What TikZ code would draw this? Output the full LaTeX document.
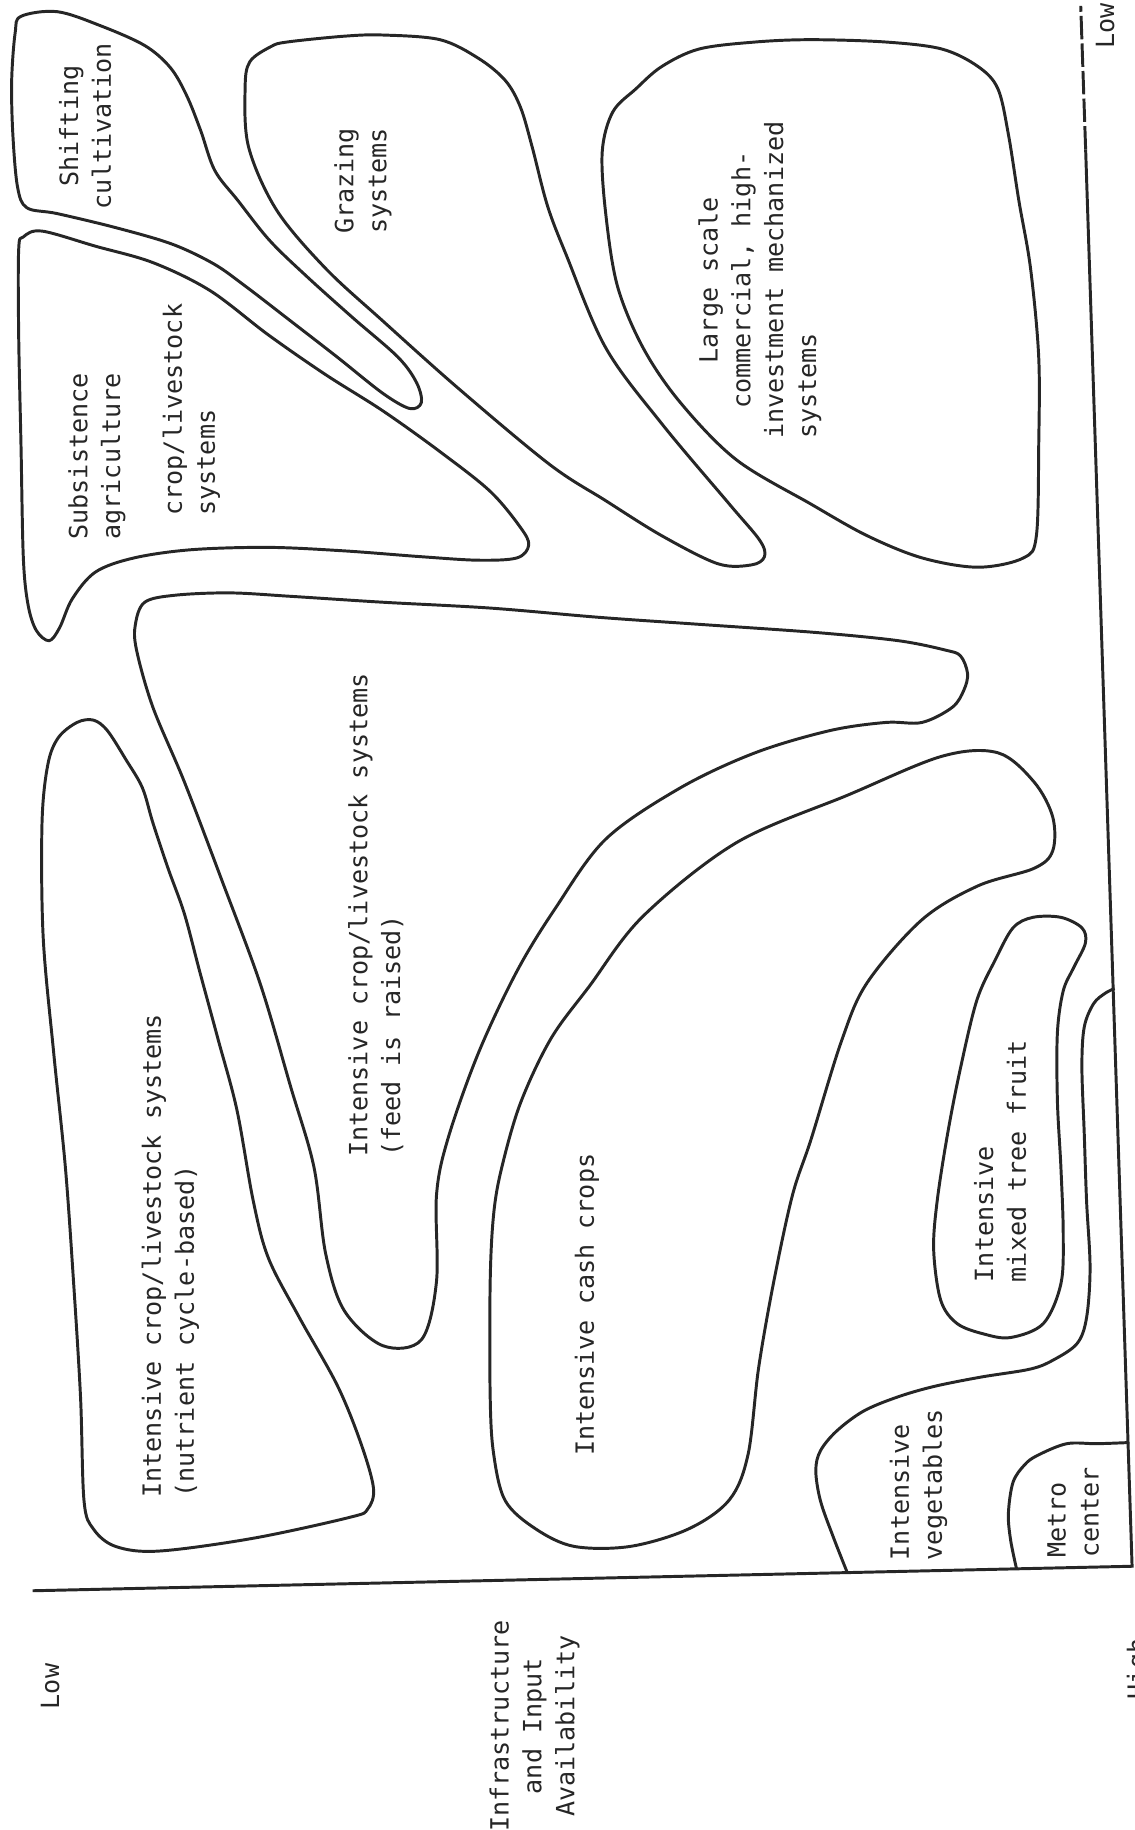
\documentclass[tikz,border=0pt]{standalone}
\usepackage{fontspec}
\setmonofont{DejaVu Sans Mono}

\begin{document}
\begin{tikzpicture}[
  x=0.25mm, y=-0.25mm,
  zone/.style={draw=black!85,line width=1.8pt,line join=round},
  axisline/.style={draw=black!85,line width=1.8pt},
  tag/.style={font=\ttfamily\fontsize{15.3}{20}\selectfont,text=black!85,rotate=90,inner sep=0pt},
  tagl/.style={tag,align=left}, tagc/.style={tag,align=center}
]
\useasboundingbox (0,0) rectangle (972,1568);
\coordinate (origin) at (28,1363);
\coordinate (xend) at (970,1342);
\coordinate (ytop) at (926,5);
\coordinate (ydash) at (930.2,128);
\draw[axisline] (origin) -- (xend) -- (ydash);
\draw[axisline,dash pattern=on 5mm off 0.9mm] (ydash) -- (ytop);

\draw[zone] plot[smooth cycle,tension=0.55] coordinates {(18,14) (49,10) (86,22) (124,39) (146,58) (160,82) (172,112) (184,146) (204,172) (231,206) (263,237) (302,272) (341,306) (357,328) (361,345) (351,350) (328,337) (289,306) (249,275) (210,245) (183,226) (147,209) (99,195) (49,183) (23,178) (15,160) (11,115) (10,69) (13,28)};
\draw[zone] plot[smooth cycle,tension=0.55] coordinates {(214,53) (232,40) (246,36) (295,31) (328,30) (377,34) (410,50) (433,69) (446,92) (456,126) (469,176) (485,218) (519,298) (567,363) (625,432) (651,463) (655,477) (644,484) (615,483) (567,459) (519,429) (471,398) (393,333) (328,275) (279,230) (237,180) (213,126) (210,76)};
\draw[zone] plot[smooth cycle,tension=0.55] coordinates {(20,203) (36,198) (82,211) (131,225) (180,249) (230,287) (279,321) (328,352) (377,387) (420,421) (446,452) (453,467) (443,478) (410,480) (361,477) (295,472) (230,469) (164,471) (115,478) (82,490) (62,513) (51,538) (42,549) (31,540) (24,518) (20,478) (18,382) (16,287) (16,214)};
\draw[zone] plot[smooth cycle,tension=0.55] coordinates {(567,57) (599,42) (647,36) (695,34) (759,36) (807,42) (838,57) (855,76) (864,115) (873,172) (883,230) (890,306) (890,382) (888,459) (877,478) (838,486) (790,478) (743,459) (695,432) (631,394) (583,345) (551,298) (529,245) (519,183) (516,130) (525,96) (545,76)};
\draw[zone] plot[smooth cycle,tension=0.55] coordinates {(124,516) (150,510) (197,508) (250,511) (328,516) (420,521) (514,529) (600,535) (700,542) (770,549) (810,557) (823,562) (829,577) (826,591) (816,606) (790,619) (759,619) (711,626) (647,645) (583,675) (519,719) (476,778) (443,832) (410,902) (384,975) (374,1024) (374,1098) (361,1148) (328,1153) (295,1123) (279,1074) (269,1000) (249,931) (223,843) (190,754) (158,670) (131,606) (117,557) (116,535)};
\draw[zone] plot[smooth cycle,tension=0.55] coordinates {(66,619) (80,617) (92,626) (108,651) (122,675) (131,705) (144,744) (158,783) (171,832) (187,891) (203,951) (217,1029) (230,1078) (256,1128) (289,1187) (309,1236) (320,1275) (315,1293) (300,1300) (217,1318) (136,1329) (99,1325) (80,1310) (72,1286) (69,1197) (63,1098) (56,1000) (46,902) (37,803) (36,705) (41,655) (50,632)};
\draw[zone] plot[smooth cycle,tension=0.55] coordinates {(472,890) (505,845) (551,785) (631,722) (727,681) (807,648) (855,645) (886,670) (902,700) (902,729) (886,744) (838,759) (790,788) (743,842) (721,892) (695,976) (679,1024) (663,1098) (650,1172) (641,1246) (625,1285) (590,1310) (540,1325) (492,1325) (459,1310) (433,1286) (423,1246) (420,1197) (420,1098) (423,1040) (430,1000) (446,945)};
\draw[zone] plot[smooth cycle,tension=0.55] coordinates {(868,795) (885,786) (909,786) (927,795) (930,808) (920,829) (911,849) (906,885) (906,943) (909,1000) (911,1057) (909,1100) (894,1134) (866,1146) (843,1143) (820,1134) (806,1114) (800,1071) (803,1029) (812,971) (823,915) (837,857) (853,822)};
\draw[zone] plot[smooth,tension=0.55] coordinates {(726,1347.5) (714,1317) (703,1286) (699,1260) (703,1243) (717,1226) (740,1209) (769,1197) (800,1188) (840,1180) (883,1173) (903,1165) (923,1151) (931,1129) (934,1086) (931,1029) (929,971) (927,914) (929,880) (937,860) (947,851) (955,847)};
\draw[zone] plot[smooth,tension=0.55] coordinates {(871,1344.2) (866,1320) (864,1297) (868,1270) (878,1255) (889,1247) (914,1237) (940,1237) (967.5,1236)};

\node[tagc] (shift) at (73,108) {Shifting\\cultivation};
\node[tagc] (graz) at (311,155) {Grazing\\systems};
\node[tagc] (subs) at (83,391) {Subsistence\\agriculture};
\node[tagl] (subcrop) at (164,351) {crop/livestock\\systems};
\node[tagc] (large) at (651,240) {Large scale\\commercial, high-\\investment mechanized\\\rlap{systems}\phantom{investment mechanized}};
\node[tagl] (nutr) at (146,1076) {Intensive crop/livestock systems\\(nutrient cycle-based)};
\node[tagl] (feed) at (322,784) {Intensive crop/livestock systems\\(feed is raised)};
\node[tag] (cash) at (503,1118) {Intensive cash crops};
\node[tagl] (fruit) at (857,995) {Intensive\\mixed tree fruit};
\node[tagl] (veg) at (787,1272) {Intensive\\vegetables};
\node[tagl] (metro) at (919.5,1296) {Metro\\center};
\node[tag] (lowx) at (43,1445) {Low};
\node[tagc] (infra) at (458,1479) {Infrastructure\\and Input\\Availability};
\node[tag] (lowy) at (947,22) {Low};
\node[tag] (high) at (976,1430) {High};
\end{tikzpicture}
\end{document}
